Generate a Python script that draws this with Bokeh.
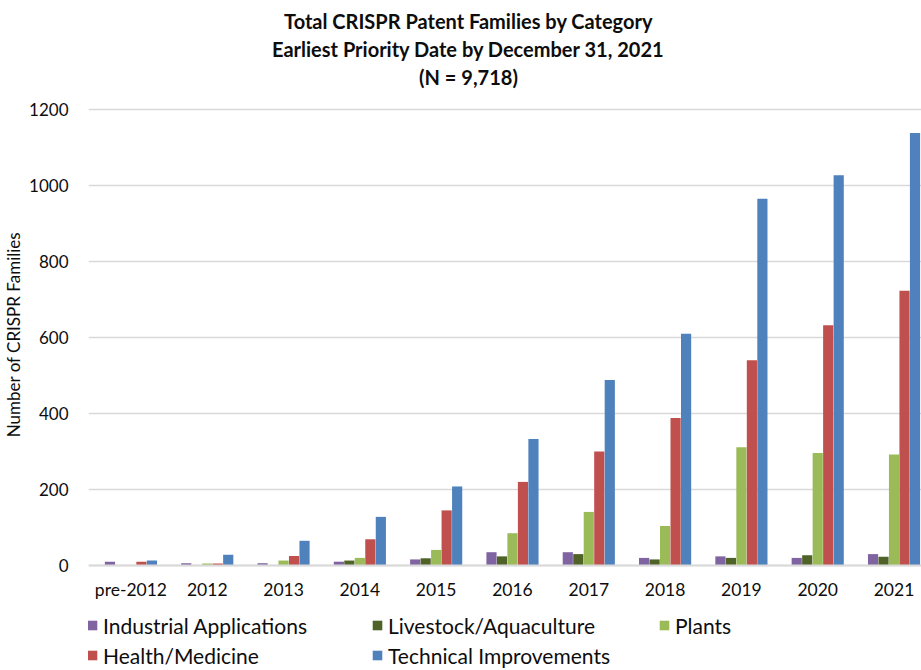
import numpy as np
from bokeh.plotting import figure
from bokeh.models import (ColumnDataSource, FixedTicker, Label, Legend, LegendItem)
from bokeh.embed import file_html
from bokeh.resources import INLINE

# ---- data ----
categories = ["pre-2012", "2012", "2013", "2014", "2015", "2016",
              "2017", "2018", "2019", "2020", "2021"]
series_names = ["Industrial Applications", "Livestock/Aquaculture", "Plants",
                "Health/Medicine", "Technical Improvements"]
industrial = [10, 6, 6, 10, 16, 35, 35, 20, 24, 20, 30]
livestock = [0, 0, 0, 13, 19, 24, 30, 16, 20, 27, 23]
plants = [0, 5, 13, 20, 41, 85, 141, 104, 311, 296, 292]
health = [10, 5, 25, 69, 145, 220, 300, 388, 540, 632, 723]
technical = [13, 28, 65, 128, 208, 333, 488, 610, 965, 1027, 1138]
y_ticks = [0, 200, 400, 600, 800, 1000, 1200]
title_lines = ["Total CRISPR Patent Families by Category",
               "Earliest Priority Date by December 31, 2021",
               "(N = 9,718)"]

colors = ["#8064A2", "#4F6228", "#9BBB59", "#C0504D", "#4F81BD"]
series = [industrial, livestock, plants, health, technical]

FONT = "Lato"
TXT = "#0d0d0d"

H = 668
px_per_unit = 456 / 1200.0
y_start = -(H - 565) / px_per_unit
y_end = 1200 + 109 / px_per_unit

p = figure(width=921, height=H, output_backend="svg", toolbar_location=None,
           title_location=None,
           x_range=(-0.556, 10.36), y_range=(y_start, y_end),
           min_border_left=87, min_border_right=0,
           min_border_top=0, min_border_bottom=0)
p.outline_line_color = None
p.background_fill_color = "white"

bw = 0.1375
idx = np.arange(len(categories))
renderers = []
for k, (vals, col) in enumerate(zip(series, colors)):
    src = ColumnDataSource(dict(x=idx + (k - 2) * bw, top=vals))
    r = p.vbar(x="x", top="top", width=bw * 0.97, bottom=0, source=src,
               fill_color=col, line_color=None)
    renderers.append(r)

# axes
p.xaxis.fixed_location = 0
p.xaxis.ticker = FixedTicker(ticks=list(idx))
p.xaxis.major_label_overrides = {int(i): c for i, c in zip(idx, categories)}
p.xaxis.major_tick_line_color = None
p.xaxis.minor_tick_line_color = None
p.xaxis.axis_line_color = "#d9d9d9"
p.xaxis.axis_line_width = 2
p.xaxis.major_label_standoff = 7
p.xaxis.major_label_text_font = FONT
p.xaxis.major_label_text_font_size = "17.5px"
p.xaxis.major_label_text_color = TXT

p.yaxis.ticker = FixedTicker(ticks=y_ticks)
p.yaxis.major_tick_line_color = None
p.yaxis.minor_tick_line_color = None
p.yaxis.axis_line_color = None
p.yaxis.major_label_standoff = 14
p.yaxis.major_label_text_font = FONT
p.yaxis.major_label_text_font_size = "17px"
p.yaxis.major_label_text_color = TXT
p.yaxis.axis_label = "Number of CRISPR Families"
p.yaxis.axis_label_text_font = FONT
p.yaxis.axis_label_text_font_size = "17px"
p.yaxis.axis_label_text_font_style = "normal"
p.yaxis.axis_label_text_color = TXT
p.yaxis.axis_label_standoff = 2

p.xgrid.grid_line_color = None
p.ygrid.grid_line_color = "#d9d9d9"
p.ygrid.grid_line_width = 1.5

# titles (screen units relative to the frame)
for line, yy in zip(title_lines, [648, 620, 592]):
    p.add_layout(Label(x=380, y=yy, x_units="screen", y_units="screen",
                       text=line, text_align="center", text_baseline="middle",
                       text_font=FONT, text_font_size="20px",
                       text_font_style="bold", text_color=TXT))

# legend in three columns
cols = [[0, 3], [1, 4], [2]]
xs = [-2, 283, 570]
for c, vx in zip(cols, xs):
    items = [LegendItem(label=series_names[k], renderers=[renderers[k]]) for k in c]
    vy = 0 if len(c) == 2 else 30
    lg = Legend(items=items, location=(vx, vy), orientation="vertical",
                padding=0, margin=0, spacing=4,
                glyph_width=12, glyph_height=12, label_height=26,
                label_standoff=5, label_text_font=FONT,
                label_text_font_size="21px", label_text_color=TXT,
                border_line_color=None, background_fill_alpha=0)
    p.add_layout(lg, "center")

open("out.html", "w").write(file_html(p, INLINE))
